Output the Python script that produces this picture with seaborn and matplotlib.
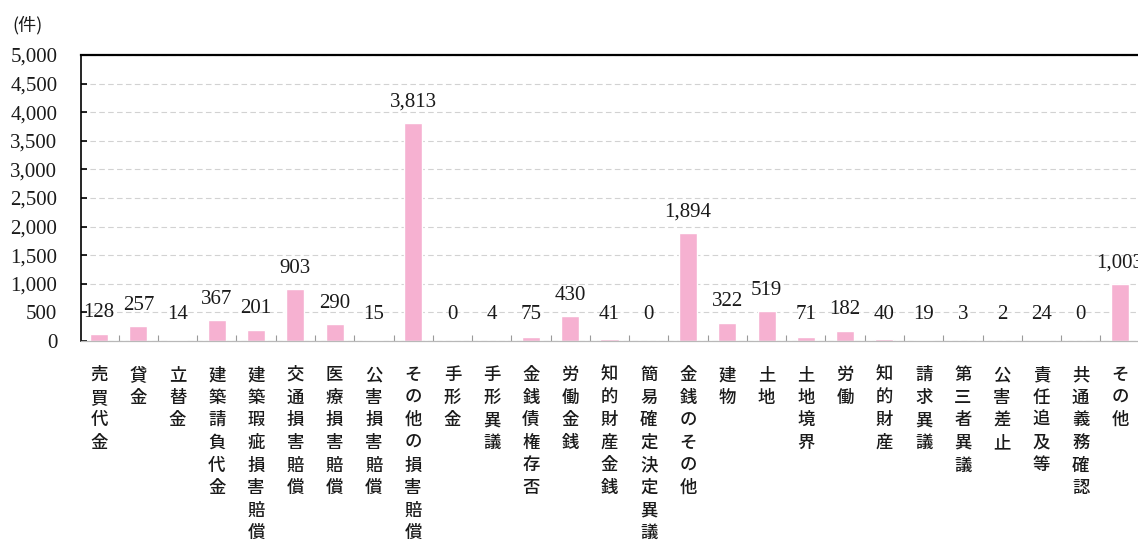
import matplotlib
matplotlib.use("Agg")
import matplotlib.pyplot as plt
import seaborn as sns
import pandas as pd

# 事件の種類別の件数
categories = [
    "売買代金", "貸金", "立替金", "建築請負代金", "建築瑕疵損害賠償",
    "交通損害賠償", "医療損害賠償", "公害損害賠償", "その他の損害賠償",
    "手形金", "手形異議", "金銭債権存否", "労働金銭", "知的財産金銭",
    "簡易確定決定異議", "金銭のその他", "建物", "土地", "土地境界",
    "労働", "知的財産", "請求異議", "第三者異議", "公害差止",
    "責任追及等", "共通義務確認", "その他",
]
counts = [
    128, 257, 14, 367, 201,
    903, 290, 15, 3813,
    0, 4, 75, 430, 41,
    0, 1894, 322, 519, 71,
    182, 40, 19, 3, 2,
    24, 0, 1003,
]
y_ticks = list(range(0, 5001, 500))
unit_label = "(件)"

sns.set_theme(style="white")
plt.rcParams["font.family"] = ["Noto Sans CJK JP", "DejaVu Sans"]

W, H = 1138, 545
fig = plt.figure(figsize=(W / 100, H / 100), dpi=100)
fig.patch.set_facecolor("white")
ax = fig.add_axes([81 / W, 1 - 341 / H, 1 - 81 / W, (341 - 55) / H])

df = pd.DataFrame({"category": categories, "count": counts})
sns.barplot(data=df, x="category", y="count", color="#F6B1D1",
            saturation=1, width=0.46, ax=ax, errorbar=None)

ax.set_xlim(-0.46, len(categories) - 0.54)
ax.set_ylim(0, 5000)
ax.set_xlabel("")
ax.set_ylabel("")

# y axis: serif numerals, inward ticks, dashed grid
ax.set_yticks(y_ticks)
ax.set_yticklabels([f"{t:,}" for t in y_ticks], family="Liberation Serif",
                   fontsize=15, color="#1a1a1a")
ax.tick_params(axis="y", direction="in", length=4, width=1.2,
               color="black", pad=17, left=True)
ax.yaxis.grid(True, color="#d2d2d2", linestyle=(0, (5, 3)), linewidth=0.8)
ax.set_axisbelow(True)

# x axis: category names written vertically
ax.set_xticks(range(len(categories)))
ax.set_xticklabels(["\n".join(c) for c in categories], fontsize=12.5,
                   linespacing=1.33, va="top", color="#1a1a1a",
                   fontweight="medium")
ax.tick_params(axis="x", which="major", length=0, pad=18)
ax.set_xticks([i + 0.5 for i in range(len(categories) - 1)], minor=True)
ax.tick_params(axis="x", which="minor", direction="in", length=4,
               width=0.8, color="#9a9a9a", bottom=True)

for side in ("top", "left"):
    ax.spines[side].set_visible(True)
    ax.spines[side].set_color("black")
ax.spines["top"].set_linewidth(1.6)
ax.spines["left"].set_linewidth(1.2)
ax.spines["right"].set_visible(False)
ax.spines["bottom"].set_color("#b8b8b8")
ax.spines["bottom"].set_linewidth(0.9)

# value labels above each bar
for i, v in enumerate(counts):
    ax.annotate(f"{v:,}", xy=(i, max(v, 100)), xytext=(0, 15),
                textcoords="offset points", ha="center", va="center",
                family="Liberation Serif", fontsize=15, color="#1a1a1a",
                annotation_clip=False)

fig.text(12 / W, 1 - 25 / H, unit_label, fontsize=13, va="center",
         ha="left", color="#1a1a1a")

fig.savefig("out.png", dpi=100, facecolor="white")
